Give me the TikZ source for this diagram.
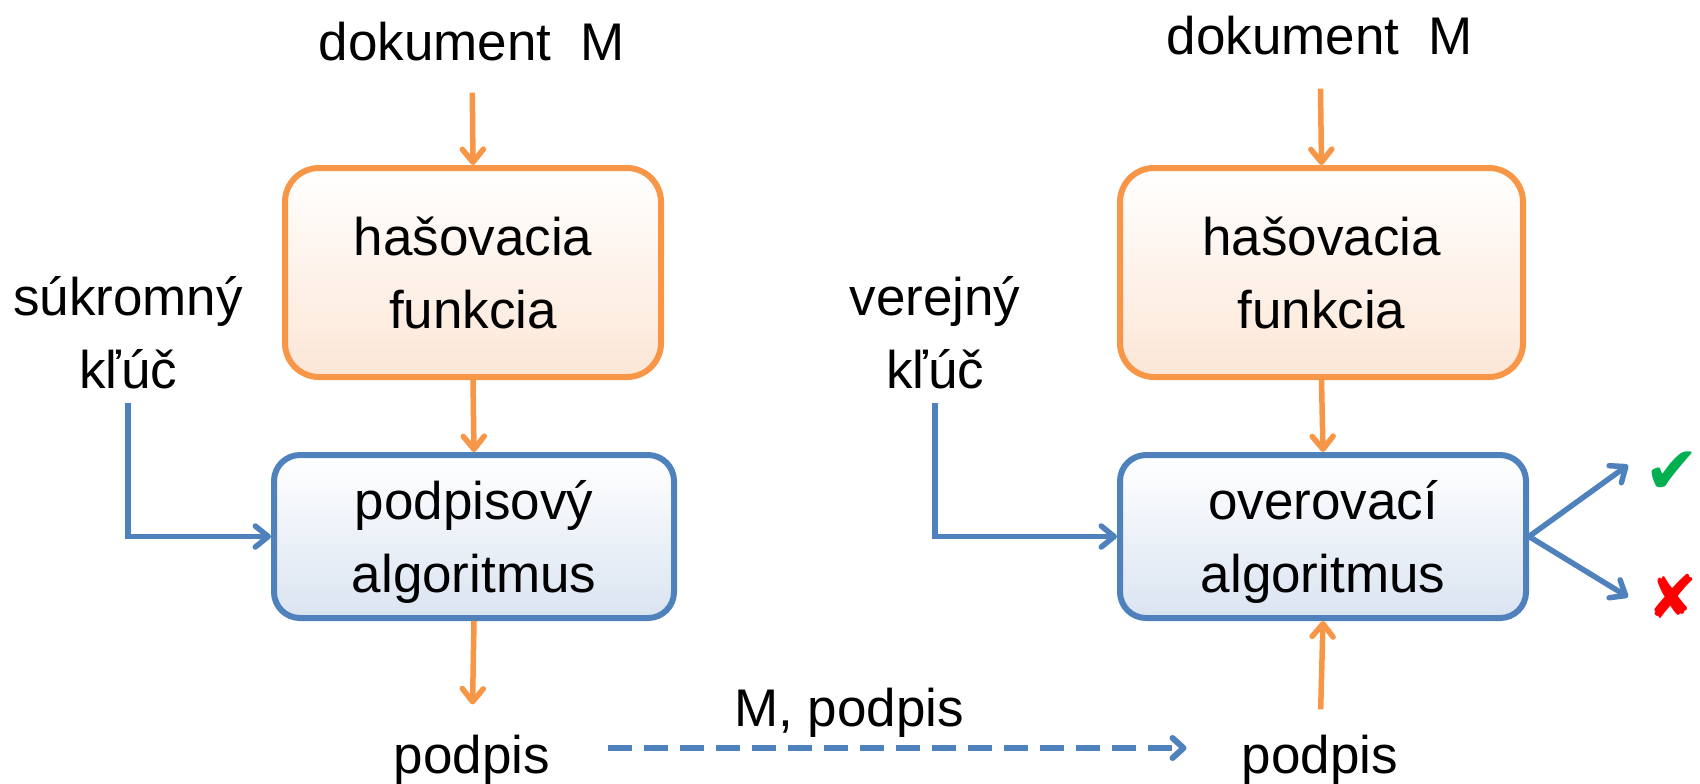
\documentclass[tikz,border=0pt]{standalone}
\usepackage{fontspec}
\setmainfont{Liberation Sans}
\newfontfamily\symfont{DejaVu Sans}
\usetikzlibrary{arrows.meta}
\definecolor{orng}{HTML}{F79646}
\definecolor{blu}{HTML}{4F81BD}
\definecolor{orfill}{HTML}{FCE6D6}
\definecolor{blfill}{HTML}{DAE4F1}
\definecolor{okgreen}{HTML}{00B050}
\definecolor{badred}{HTML}{FF0000}
\begin{document}
\begin{tikzpicture}[x=0.5pt,y=-0.5pt,
  txt/.style={font=\fontsize{26.5}{36.5}\selectfont, inner sep=0pt, text depth=0pt, align=center},
  hashbox/.style={txt, draw=orng, line width=3pt, rounded corners=17pt, top color=white, bottom color=orfill, minimum height=104.5pt},
  algobox/.style={txt, draw=blu, line width=3pt, rounded corners=13pt, top color=white, bottom color=blfill, minimum height=81.5pt},
  tip/.style={-{Straight Barb[length=6.5pt,width=10.5pt,line cap=round,line join=round]}},
  oarr/.style={draw=orng, line width=2.75pt, tip},
  barr/.style={draw=blu, line width=2.75pt, tip},
  dsh/.style={draw=blu, line width=3pt, dash pattern=on 12pt off 6pt, -{Straight Barb[length=5.5pt,width=10pt,line cap=round,line join=round]}},
  sym/.style={inner sep=0pt}
]
\useasboundingbox (0,0) rectangle (1700,783);

% texts
\node[txt] (docL) at (472,41) {dokument\ \ M};
\node[txt] (docR) at (1320,35) {dokument\ \ M};
\node[txt] (keyL) at (128,332) {súkromný\\kľúč};
\node[txt] (keyR) at (935,332) {verejný\\kľúč};
\node[txt] (podL) at (472,754) {podpis};
\node[txt] (podR) at (1320,754) {podpis};
\node[txt] (msg) at (849,707) {M, podpis};

% boxes
\node[hashbox, minimum width=188pt] (hashL) at (473,272.5) {hašovacia\\funkcia};
\node[algobox, minimum width=200pt] (algoL) at (474,536.5) {podpisový\\algoritmus};
\node[hashbox, minimum width=201.5pt] (hashR) at (1321.5,272.5) {hašovacia\\funkcia};
\node[algobox, minimum width=203pt] (algoR) at (1323,536.5) {overovací\\algoritmus};

% result symbols
\node[sym, text=okgreen, font=\symfont\fontsize{33}{36}\selectfont] (ok) at (1672,473) {✔};
\node[sym, text=badred, font=\symfont\fontsize{30}{32}\selectfont] (bad) at (1673,596) {✘};
\coordinate (okT) at (1628,465);
\coordinate (badT) at (1628,597);

% left connectors
\draw[oarr, shorten <=16pt] (docL.south) -- (hashL.north);
\draw[oarr] (hashL.south) -- (algoL.north);
\draw[oarr, shorten >=15pt] (algoL.south) -- (podL.north);
\draw[barr, shorten <=7.5pt] (keyL.south) |- (algoL.west);

% right connectors
\draw[oarr, shorten <=17pt] (docR.south) -- (hashR.north);
\draw[oarr] (hashR.south) -- (algoR.north);
\draw[oarr, shorten <=12.5pt] (podR.north) -- (algoR.south);
\draw[barr, shorten <=7.5pt] (keyR.south) |- (algoR.west);
\draw[barr] (algoR.east) -- (okT);
\draw[barr] (algoR.east) -- (badT);

% transfer
\draw[dsh, shorten <=28.5pt, shorten >=27.5pt] ([yshift=3pt]podL.east) -- ([yshift=3pt]podR.west);
\end{tikzpicture}
\end{document}
